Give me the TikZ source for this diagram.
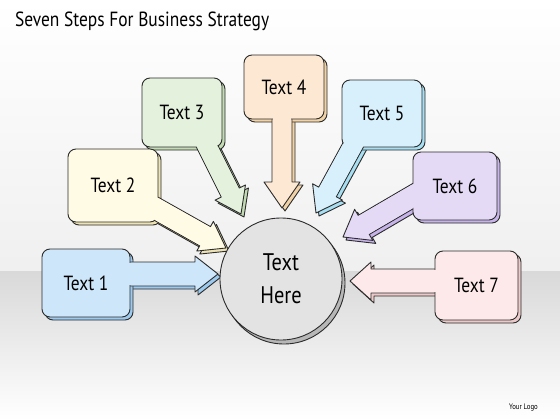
\documentclass[tikz,border=0pt]{standalone}
\usepackage{fontspec}
\newfontfamily\handfont[FakeStretch=0.85]{PT Sans}
\usetikzlibrary{calc,positioning}

\definecolor{ink}{HTML}{2B2B2B}
\definecolor{blueL}{HTML}{CDE6FA}  \definecolor{blueD}{HTML}{9CC9EE}
\definecolor{creamL}{HTML}{FFFBE4} \definecolor{creamD}{HTML}{EDE2B4}
\definecolor{greenL}{HTML}{E4F1DD} \definecolor{greenD}{HTML}{C2DBB3}
\definecolor{peachL}{HTML}{FDE9D3} \definecolor{peachD}{HTML}{F1D2A6}
\definecolor{cyanL}{HTML}{D8F0FB}  \definecolor{cyanD}{HTML}{A8DEF2}
\definecolor{lilacL}{HTML}{E4DAF5} \definecolor{lilacD}{HTML}{C6B3E9}
\definecolor{pinkL}{HTML}{FDE9E9}  \definecolor{pinkD}{HTML}{EBC9C9}
\definecolor{hubL}{HTML}{E3E3E3}   \definecolor{hubD}{HTML}{B7B7B7}

\pgfdeclarelayer{paper}
\pgfdeclarelayer{shade}
\pgfdeclarelayer{shaft}
\pgfdeclarelayer{seam}
\pgfsetlayers{paper,shade,shaft,main,seam}

% corner points of a block arrow: start, tip, shaft half width, head half width, head length
\newcommand{\arrowpts}[5]{%
  \coordinate (hb) at ($(#2)!#5!(#1)$);
  \coordinate (p1) at ($(#1)!#3!90:(#2)$);
  \coordinate (p2) at ($(hb)!#3!90:(#2)$);
  \coordinate (p3) at ($(hb)!#4!90:(#2)$);
  \coordinate (p4) at ($(hb)!#4!-90:(#2)$);
  \coordinate (p5) at ($(hb)!#3!-90:(#2)$);
  \coordinate (p6) at ($(#1)!#3!-90:(#2)$);
  \pgfmathsetlengthmacro\seamw{#3-0.7pt}%
  \coordinate (q1) at ($(#1)!\seamw!90:(#2)$);
  \coordinate (q2) at ($(hb)!\seamw!90:(#2)$);
  \coordinate (q5) at ($(hb)!\seamw!-90:(#2)$);
  \coordinate (q6) at ($(#1)!\seamw!-90:(#2)$);}

\begin{document}
\begin{tikzpicture}[x=1pt,y=-1pt,
    stepbox/.style={draw=ink, line width=0.9pt, rounded corners=8pt, inner sep=0pt, outer sep=0pt,
      font=\handfont\fontsize{20.5}{24}\selectfont},
    hubdisc/.style={circle, draw=ink, line width=0.9pt, fill=hubL, minimum size=122pt, inner sep=0pt,
      outer sep=0pt, align=center, font=\handfont\fontsize{24}{33}\selectfont},
    outline/.style={draw=ink, line width=0.9pt, line join=round},
    offset/.style={transform canvas={shift={(3,3)}}}]

  \useasboundingbox (0,0) rectangle (560,420);

  % --- Backdrop ---
  \begin{pgfonlayer}{paper}
    \shade[top color=white, bottom color=black!6] (0,0) rectangle (560,271);
    \shade[top color=black!15, bottom color=white] (0,271) rectangle (560,420);
  \end{pgfonlayer}

  \node[anchor=base west, inner sep=0pt, font=\handfont\fontsize{20.5}{24}\selectfont] (title) at (15,27)
    {Seven Steps For Business Strategy};
  \node[anchor=base east, inner sep=0pt, font=\handfont\fontsize{8}{9}\selectfont] (logo) at (538,409) {Your Logo};

  % --- Centre ---
  \node[hubdisc] (hub) at (281,279) {Text\\Here};
  \begin{pgfonlayer}{shade}
    \draw[outline, fill=hubD] ([shift={(3,4)}]hub.center) circle[radius=61];
  \end{pgfonlayer}

  % --- Steps ---
  \node[stepbox, fill=blueL,  minimum width=88pt, minimum height=68pt] (t1) at (86,283)    {Text 1};
  \node[stepbox, fill=creamL, minimum width=90pt, minimum height=73pt] (t2) at (113,185.5) {Text 2};
  \node[stepbox, fill=greenL, minimum width=80pt, minimum height=69pt] (t3) at (182,112.5) {Text 3};
  \node[stepbox, fill=peachL, minimum width=80pt, minimum height=64pt] (t4) at (284,87)    {Text 4};
  \node[stepbox, fill=cyanL,  minimum width=80pt, minimum height=67pt] (t5) at (382,113.5) {Text 5};
  \node[stepbox, fill=lilacL, minimum width=84pt, minimum height=68pt] (t6) at (455,186)   {Text 6};
  \node[stepbox, fill=pinkL,  minimum width=83pt, minimum height=69pt] (t7) at (476.5,285.5) {Text 7};

  % --- Arrow ends ---
  \coordinate (s1) at ($(t1.east)+(-6,-9)$);    \coordinate (e1) at (218,274);
  \coordinate (s2) at ($(t2.east)+(-12,17.5)$); \coordinate (e2) at (226,248);
  \coordinate (s3) at ($(t3.south)+(22,-7)$);   \coordinate (e3) at (241,214);
  \coordinate (s4) at ($(t4.south)+(-2,-7)$);   \coordinate (e4) at (282,208);
  \coordinate (s5) at ($(t5.south)+(-25,-9)$);  \coordinate (e5) at (316,213);
  \coordinate (s6) at ($(t6.west)+(7,6)$);      \coordinate (e6) at (343,237);
  \coordinate (s7) at ($(t7.west)+(6,-4.5)$);   \coordinate (e7) at (350,281);

  \foreach \i/\lite/\dark/\sw/\hw/\hl in {1/blueL/blueD/12pt/18pt/23pt, 2/creamL/creamD/11pt/17pt/24pt,
      3/greenL/greenD/10pt/17pt/24pt, 4/peachL/peachD/10pt/18pt/26pt, 5/cyanL/cyanD/10pt/17pt/24pt,
      6/lilacL/lilacD/11pt/18pt/24pt, 7/pinkL/pinkD/12pt/19pt/21pt}{
    \arrowpts{s\i}{e\i}{\sw}{\hw}{\hl}
    \begin{pgfonlayer}{shade}
      \path[outline, fill=\dark, offset] (p1) -- (p2) -- (p3) -- (e\i) -- (p4) -- (p5) -- (p6) -- cycle;
      \path[outline, fill=\dark, rounded corners=8pt, offset] (t\i.south west) rectangle (t\i.north east);
    \end{pgfonlayer}
    \begin{pgfonlayer}{shaft}
      \path[outline, fill=\lite] (p1) -- (p2) -- (p3) -- (e\i) -- (p4) -- (p5) -- (p6) -- cycle;
    \end{pgfonlayer}
    \begin{pgfonlayer}{seam}
      \fill[\lite] (q1) -- (q2) -- (q5) -- (q6) -- cycle;
    \end{pgfonlayer}
  }
\end{tikzpicture}
\end{document}
